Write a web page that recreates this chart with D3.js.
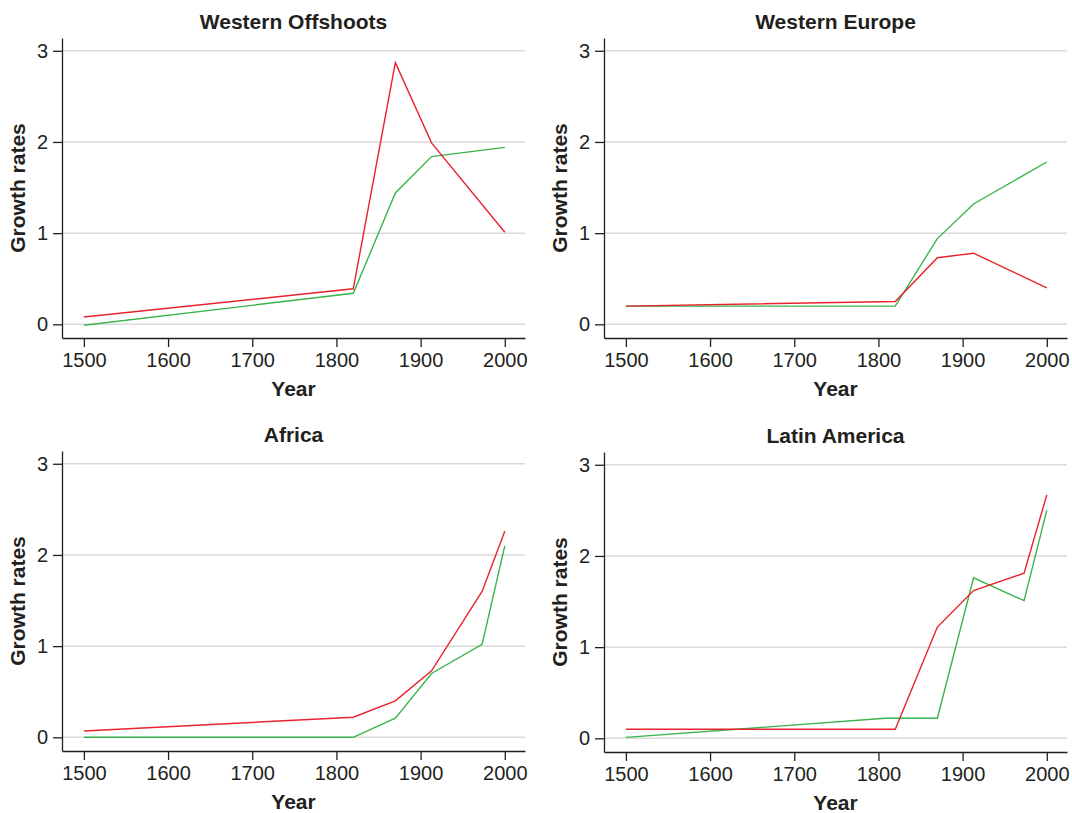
<!DOCTYPE html>
<html>
<head>
<meta charset="utf-8">
<script src="https://cdn.jsdelivr.net/npm/d3@7"></script>
<style>
  body { margin: 0; background: #fff; }
  svg text { font-family: "Liberation Sans", Arial, Helvetica, sans-serif; fill: #231f20; }
  .axis path, .axis line { stroke: #231f20; stroke-width: 1.3px; }
  .axis text { font-size: 20px; }
  .grid line { stroke: #dadada; stroke-width: 1.5px; }
  .title { font-size: 21px; font-weight: bold; }
  .label { font-size: 21px; font-weight: bold; }
</style>
</head>
<body>
<svg width="1072" height="813"></svg>
<script>
// panel names
var regions = ["Western Offshoots", "Western Europe", "Africa", "Latin America"];

// years for each series (red and green per panel)
var redYears = [
    [1500, 1820, 1870, 1913, 2000],
    [1500, 1820, 1870, 1913, 2000],
    [1500, 1820, 1870, 1913, 1973, 2000],
    [1500, 1820, 1870, 1913, 1973, 2000]
];
var greenYears = [
    [1500, 1820, 1870, 1913, 2000],
    [1500, 1820, 1870, 1913, 2000],
    [1500, 1820, 1870, 1913, 1973, 2000],
    [1500, 1808, 1870, 1913, 1973, 2000]
];

// growth rates
var redValues = [
    [0.08, 0.39, 2.87, 1.99, 1.01],
    [0.20, 0.25, 0.73, 0.78, 0.40],
    [0.07, 0.22, 0.40, 0.73, 1.60, 2.26],
    [0.10, 0.10, 1.22, 1.62, 1.81, 2.67]
];
var greenValues = [
    [-0.01, 0.34, 1.44, 1.84, 1.94],
    [0.20, 0.20, 0.94, 1.32, 1.78],
    [0.00, 0.00, 0.21, 0.70, 1.02, 2.10],
    [0.01, 0.22, 0.22, 1.76, 1.51, 2.50]
];

var xTicks = [1500, 1600, 1700, 1800, 1900, 2000];
var yTicks = [0, 1, 2, 3];

var redColor = "#e8232d";
var greenColor = "#3ab44a";

var svg = d3.select("svg");

// where each panel sits: left edge of y axis, top of y axis
var panelPos = [[62, 38], [604, 38], [62, 451], [604, 452]];
var plotW = 463, plotH = 300;

regions.forEach(function(name, i) {
    var g = svg.append("g")
        .attr("transform", "translate(" + panelPos[i][0] + "," + panelPos[i][1] + ")");

    var x = d3.scaleLinear().domain([1474, 2024]).range([0, plotW]);
    var y = d3.scaleLinear().domain([-0.15, 3.14]).range([plotH, 0]);

    // gridlines
    g.append("g").attr("class", "grid")
        .selectAll("line")
        .data(yTicks)
        .enter()
        .append("line")
        .attr("x1", 0)
        .attr("x2", plotW)
        .attr("y1", function(d){ return y(d); })
        .attr("y2", function(d){ return y(d); });

    var xAxis = d3.axisBottom(x).tickValues(xTicks).tickFormat(d3.format("d"))
        .tickSizeInner(9).tickSizeOuter(0).tickPadding(6);
    var yAxis = d3.axisLeft(y).tickValues(yTicks).tickFormat(d3.format("d"))
        .tickSizeInner(9).tickSizeOuter(0).tickPadding(5);

    g.append("g").attr("class", "axis x")
        .attr("transform", "translate(0," + plotH + ")")
        .call(xAxis);
    g.append("g").attr("class", "axis y")
        .call(yAxis);
    g.selectAll(".axis text").attr("fill", "#231f20");

    var line = d3.line()
        .x(function(d){ return x(d[0]); })
        .y(function(d){ return y(d[1]); });

    var redData = d3.zip(redYears[i], redValues[i]);
    var greenData = d3.zip(greenYears[i], greenValues[i]);

    g.append("path")
        .datum(greenData)
        .attr("fill", "none")
        .attr("stroke", greenColor)
        .attr("stroke-width", 1.4)
        .attr("d", line);

    g.append("path")
        .datum(redData)
        .attr("fill", "none")
        .attr("stroke", redColor)
        .attr("stroke-width", 1.4)
        .attr("d", line);

    // titles and labels
    g.append("text").attr("class", "title")
        .attr("x", plotW / 2)
        .attr("y", -9)
        .attr("text-anchor", "middle")
        .text(name);

    g.append("text").attr("class", "label")
        .attr("x", plotW / 2)
        .attr("y", plotH + 58)
        .attr("text-anchor", "middle")
        .text("Year");

    g.append("text").attr("class", "label")
        .attr("transform", "translate(-37," + (plotH / 2) + ") rotate(-90)")
        .attr("text-anchor", "middle")
        .text("Growth rates");
});
</script>
</body>
</html>
